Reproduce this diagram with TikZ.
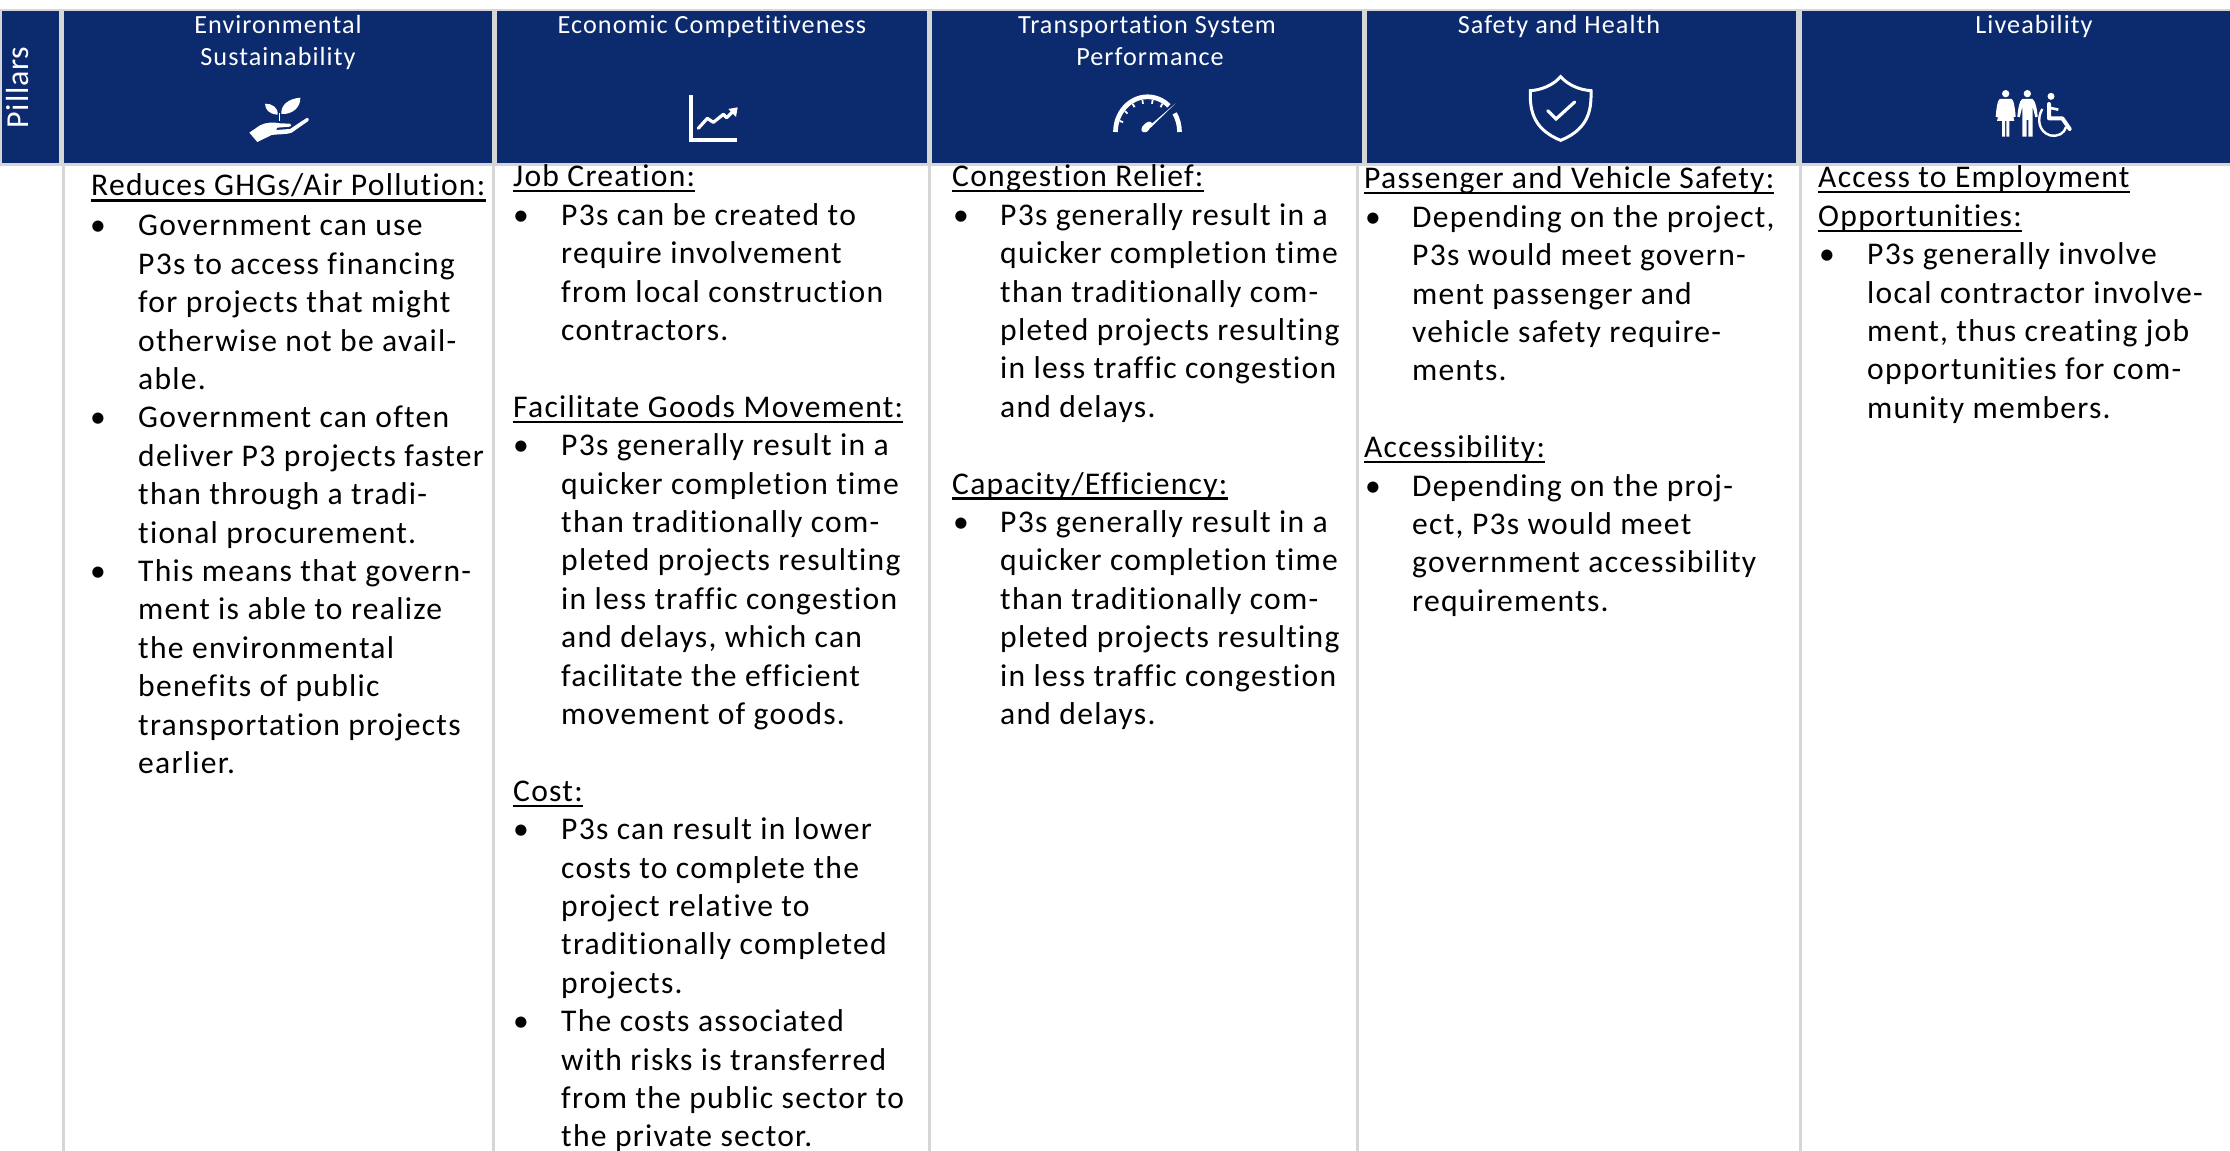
\documentclass[tikz,border=0pt]{standalone}
\usepackage{fontspec}
\setmainfont{Carlito}
\newfontfamily\bodyf[LetterSpace=4,Ligatures={NoCommon}]{Carlito}
\newfontfamily\pilf[LetterSpace=2.5]{Carlito}
\usetikzlibrary{calc}
\definecolor{navy}{HTML}{0C2A6E}
\definecolor{gridc}{HTML}{D6D6D6}
\newcounter{tn}
\newcommand{\cbase}{186}
\newcommand{\tx}[3]{\stepcounter{tn}\pgfmathsetmacro{\yy}{\cbase+38.4*#2}\node[bodytext] (t\thetn) at (#1,\yy) {#3};}
\newcommand{\hd}[3]{\stepcounter{tn}\pgfmathsetmacro{\yy}{\cbase+38.4*#2}\node[bodytext] (t\thetn) at (#1,\yy) {#3};\draw[ul] ($(t\thetn.base west)+(0,4.5)$) -- ($(t\thetn.base east)+(0,4.5)$);}
\newcommand{\bl}[2]{\stepcounter{tn}\pgfmathsetmacro{\yy}{\cbase+38.4*#2}\node[bullet] (t\thetn) at (#1,\yy) {•};}
\begin{document}
\begin{tikzpicture}[x=1pt,y=-1pt,
  bodytext/.style={anchor=base west,inner sep=0pt,font=\bodyf\fontsize{31.6}{36}\selectfont,text=black},
  bullet/.style={anchor=base,inner sep=0pt,font=\bodyf\fontsize{31.6}{36}\selectfont,text=black},
  ul/.style={line width=2.3pt,black},
  cell/.style={fill=navy,draw=none},
  headtext/.style={anchor=base,inner sep=0pt,font=\bodyf\fontsize{26.2}{30}\selectfont,text=white},
  gridline/.style={line width=3pt,gridc},
  icon/.style={white,line width=3.2pt,line cap=round,line join=round},
  iconfill/.style={fill=white,draw=none}]
\useasboundingbox (0,0) rectangle (2230,1151);
\fill[white] (0,0) rectangle (2230,1151);
% header band and grid
\fill[gridc] (0,8.5) rectangle (2230,165.5);
\foreach \xx in {63,493.5,929,1357,1800} \draw[gridline] (\xx,165) -- (\xx,1151);
\fill[cell] (2,11) rectangle (59,163);
\fill[cell] (64,11) rectangle (492,163);
\fill[cell] (497,11) rectangle (927,163);
\fill[cell] (932,11) rectangle (1362,163);
\fill[cell] (1366.5,11) rectangle (1796,163);
\fill[cell] (1802,11) rectangle (2230,163);
% header text
\node[headtext,rotate=90,font=\pilf\fontsize{32}{34}\selectfont] (pillars) at (28,87.5) {Pillars};
\node[headtext] (h1a) at (278,33) {Environmental};
\node[headtext] (h1b) at (278,65) {Sustainability};
\node[headtext] (h2a) at (712,33) {Economic Competitiveness};
\node[headtext] (h3a) at (1147,33) {Transportation System};
\node[headtext] (h3b) at (1150,65) {Performance};
\node[headtext] (h4a) at (1559,33) {Safety and Health};
\node[headtext] (h5a) at (2034,33) {Liveability};
% icon 1 plant in hand
\begin{scope}[shift={(240,90)},x=0.3333pt,y=-0.3333pt]
  \fill[white] (113,74) .. controls (85,72) and (76,58) .. (75,41) .. controls (95,40) and (115,52) .. (113,74) -- cycle;
  \fill[white] (124,72) .. controls (122,45) and (145,26) .. (181,23) .. controls (182,50) and (160,74) .. (124,72) -- cycle;
  \draw[white,line width=1.4pt] (118,68) -- (118,92);
  \fill[white] (28,128) -- (60,106) .. controls (80,96) and (100,96) .. (120,100) -- (150,101) .. controls (156,104) and (155,108) .. (150,110) -- (112,113) -- (108,120) -- (150,117) -- (200,84) .. controls (206,82) and (209,88) .. (205,93) -- (155,128) .. controls (140,134) and (115,132) .. (95,135) -- (52,156) -- cycle;
\end{scope}
% icon 2 chart
\begin{scope}[shift={(680,85)},x=0.3333pt,y=-0.3333pt]
  \draw[icon,line cap=butt,line join=miter] (33,30) -- (33,165) -- (172,165);
  \draw[icon] (55,130) -- (82,100) -- (100,112) -- (130,88) -- (140,98) -- (158,80);
  \fill[white] (145,72) -- (173,67) -- (168,96) -- cycle;
\end{scope}
% icon 3 gauge
\begin{scope}[shift={(1147.5,132)},yscale=1.1]
  \draw[white,line width=4.7pt] (180:32pt) arc[start angle=180,end angle=48,radius=32pt];
  \draw[white,line width=4.7pt] (32:32pt) arc[start angle=32,end angle=0,radius=32pt];
  \foreach \a in {160,140,120,100,80,60}
    \draw[white,line width=1.8pt] (\a:29.5pt) -- (\a:26pt);
  \fill[white] (28,-26) -- (5,-8) .. controls (3,-12) and (-7,-7) .. (-6,-1) .. controls (-4,1) and (0,1) .. (2,-3) -- cycle;
\end{scope}
% icon 4 shield
\begin{scope}[shift={(1520,70)},x=0.3333pt,y=-0.3333pt]
  \draw[white,line width=3pt,line join=miter] (122,20) .. controls (100,45) and (65,60) .. (31,62) .. controls (30,110) and (32,175) .. (122,211) .. controls (212,175) and (214,110) .. (213,62) .. controls (179,60) and (144,45) .. (122,20) -- cycle;
  \draw[white,line width=3.2pt,line cap=round,line join=miter] (83,122) -- (108,147) -- (164,96);
\end{scope}
% icon 5 people
\begin{scope}[shift={(1985,85)},x=0.3333pt,y=-0.3333pt]
  \fill[white] (62,26) circle[radius=11];
  \fill[white] (44,42) -- (80,42) .. controls (86,44) and (90,70) .. (92,95) -- (85,97) -- (76,62) -- (88,108) -- (73,108) -- (73,155) -- (64,155) -- (64,108) -- (60,108) -- (60,155) -- (51,155) -- (51,108) -- (36,108) -- (48,62) -- (39,97) -- (32,95) .. controls (34,70) and (38,44) .. (44,42) -- cycle;
  \fill[white] (127,26) circle[radius=11];
  \fill[white] (112,42) -- (142,42) .. controls (150,45) and (156,70) .. (158,95) -- (151,97) -- (143,65) -- (143,155) -- (130,155) -- (130,105) -- (125,105) -- (125,155) -- (112,155) -- (112,65) -- (104,97) -- (97,95) .. controls (99,70) and (104,45) .. (112,42) -- cycle;
  \fill[white] (198,34) circle[radius=10.5];
  \draw[white,line width=4pt,line join=round,line cap=round] (192,57) -- (192,100) -- (232,100) -- (254,132);
  \draw[white,line width=2.6pt,line join=round] (192,68) -- (220,74);
  \draw[white,line width=2.4pt] (172,72) .. controls (155,100) and (160,140) .. (195,151) .. controls (220,156) and (238,145) .. (243,126);
\end{scope}
% column 1
\renewcommand{\cbase}{197}
\hd{91}{-0.03}{Reduces GHGs/Air Pollution:}
\renewcommand{\cbase}{197.4}
\bl{98}{1}\tx{138}{1}{Government can use}
\tx{138}{2}{P3s to access financing}
\tx{138}{3}{for projects that might}
\tx{138}{4}{otherwise not be avail-}
\tx{138}{5}{able.}
\bl{98}{6}\tx{138}{6}{Government can often}
\tx{138}{7}{deliver P3 projects faster}
\tx{138}{8}{than through a tradi-}
\tx{138}{9}{tional procurement.}
\bl{98}{10}\tx{138}{10}{This means that govern-}
\tx{138}{11}{ment is able to realize}
\tx{138}{12}{the environmental}
\tx{138}{13}{benefits of public}
\tx{138}{14}{transportation projects}
\tx{138}{15}{earlier.}
% column 2
\renewcommand{\cbase}{186.8}
\hd{513}{0}{Job Creation:}
\bl{521}{1}\tx{561}{1}{P3s can be created to}
\tx{561}{2}{require involvement}
\tx{561}{3}{from local construction}
\tx{561}{4}{contractors.}
\hd{513}{6}{Facilitate Goods Movement:}
\bl{521}{7}\tx{561}{7}{P3s generally result in a}
\tx{561}{8}{quicker completion time}
\tx{561}{9}{than traditionally com-}
\tx{561}{10}{pleted projects resulting}
\tx{561}{11}{in less traffic congestion}
\tx{561}{12}{and delays, which can}
\tx{561}{13}{facilitate the efficient}
\tx{561}{14}{movement of goods.}
\hd{513}{16}{Cost:}
\bl{521}{17}\tx{561}{17}{P3s can result in lower}
\tx{561}{18}{costs to complete the}
\tx{561}{19}{project relative to}
\tx{561}{20}{traditionally completed}
\tx{561}{21}{projects.}
\bl{521}{22}\tx{561}{22}{The costs associated}
\tx{561}{23}{with risks is transferred}
\tx{561}{24}{from the public sector to}
\tx{561}{25}{the private sector.}
% column 3
\hd{952}{0}{Congestion Relief:}
\bl{961}{1}\tx{1000}{1}{P3s generally result in a}
\tx{1000}{2}{quicker completion time}
\tx{1000}{3}{than traditionally com-}
\tx{1000}{4}{pleted projects resulting}
\tx{1000}{5}{in less traffic congestion}
\tx{1000}{6}{and delays.}
\hd{952}{8}{Capacity/Efficiency:}
\bl{961}{9}\tx{1000}{9}{P3s generally result in a}
\tx{1000}{10}{quicker completion time}
\tx{1000}{11}{than traditionally com-}
\tx{1000}{12}{pleted projects resulting}
\tx{1000}{13}{in less traffic congestion}
\tx{1000}{14}{and delays.}
% column 4
\renewcommand{\cbase}{188.8}
\hd{1364}{0}{Passenger and Vehicle Safety:}
\bl{1373}{1}\tx{1412}{1}{Depending on the project,}
\tx{1412}{2}{P3s would meet govern-}
\tx{1412}{3}{ment passenger and}
\tx{1412}{4}{vehicle safety require-}
\tx{1412}{5}{ments.}
\hd{1364}{7}{Accessibility:}
\bl{1373}{8}\tx{1412}{8}{Depending on the proj-}
\tx{1412}{9}{ect, P3s would meet}
\tx{1412}{10}{government accessibility}
\tx{1412}{11}{requirements.}
% column 5
\renewcommand{\cbase}{187.8}
\hd{1818}{0}{Access to Employment}
\hd{1818}{1}{Opportunities:}
\bl{1827}{2}\tx{1867}{2}{P3s generally involve}
\tx{1867}{3}{local contractor involve-}
\tx{1867}{4}{ment, thus creating job}
\tx{1867}{5}{opportunities for com-}
\tx{1867}{6}{munity members.}
\end{tikzpicture}
\end{document}
